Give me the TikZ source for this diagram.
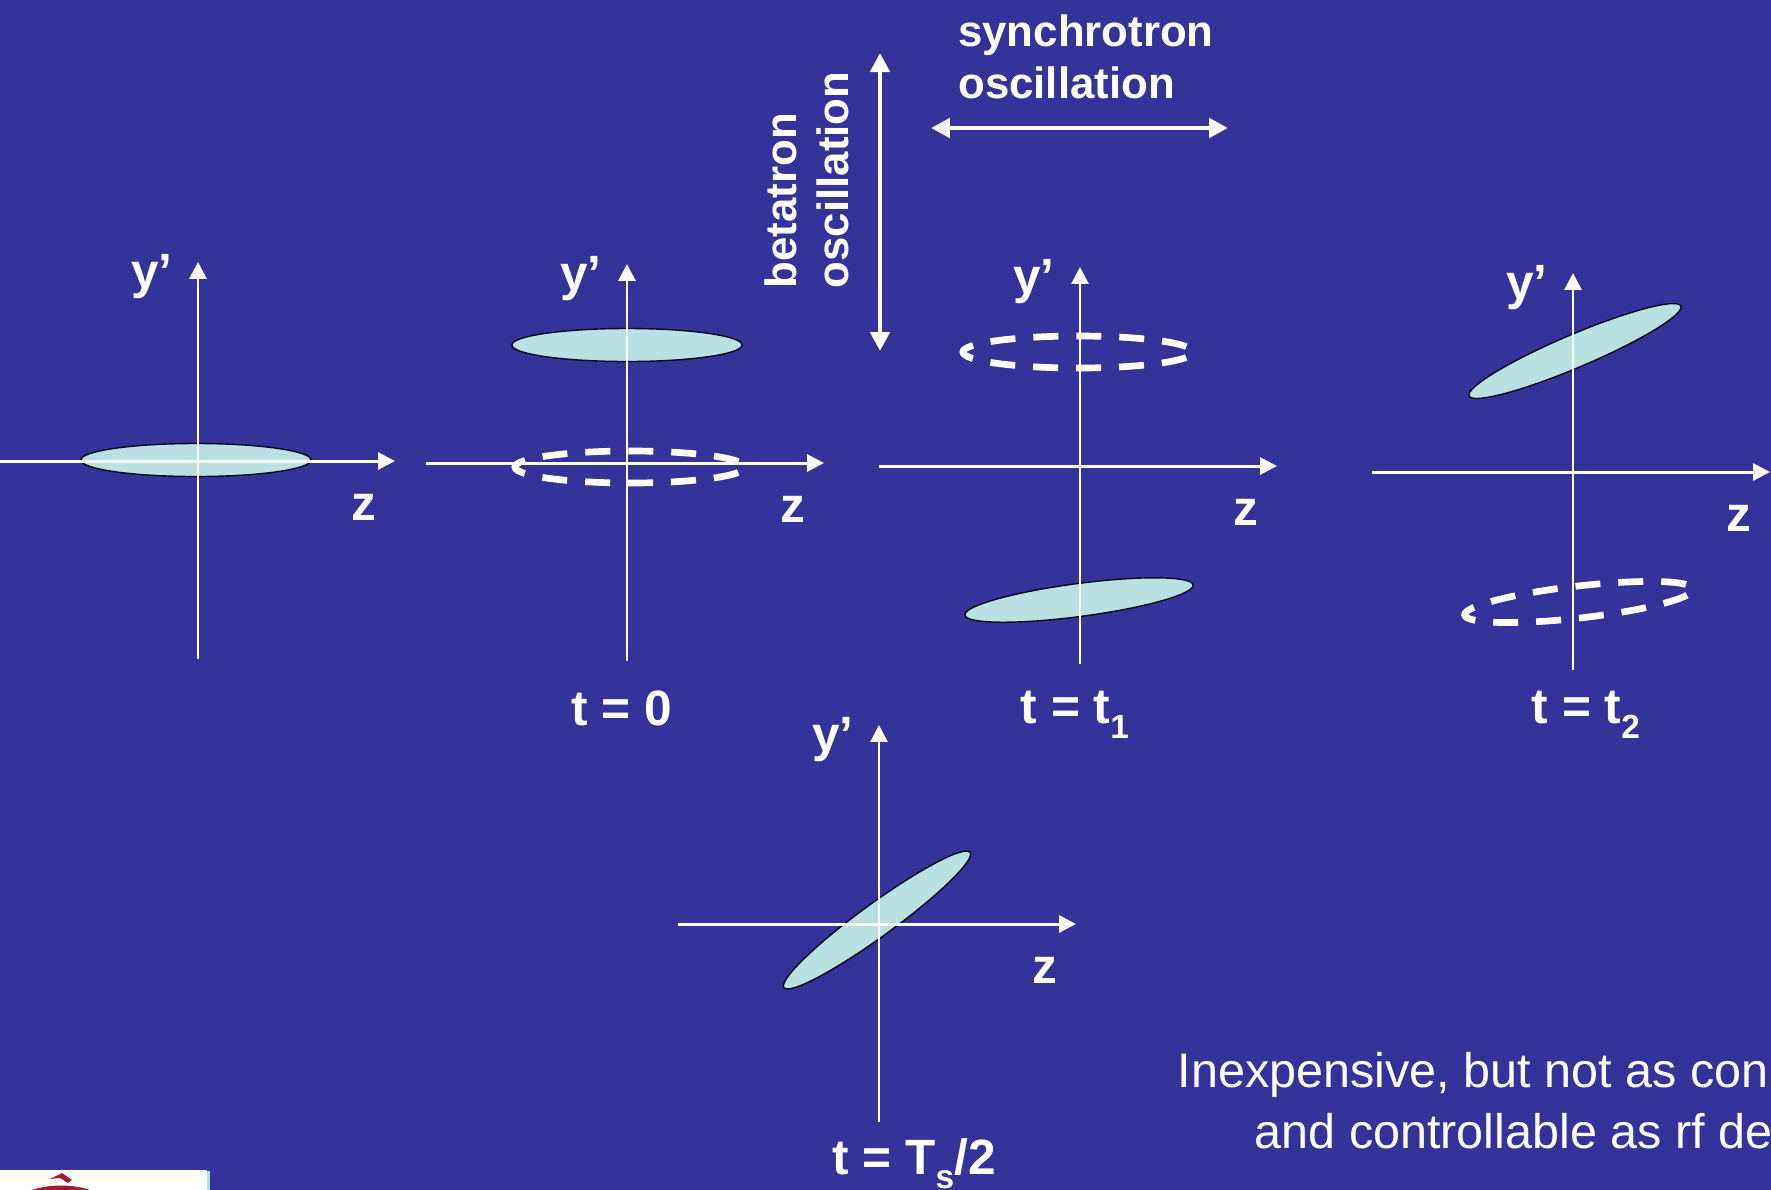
\documentclass[tikz,border=0pt]{standalone}
\usepackage{fontspec}
\setmainfont{Liberation Sans}
\usetikzlibrary{shapes.geometric,arrows.meta}
\definecolor{slide}{HTML}{333399}
\definecolor{beam}{HTML}{B9E1E1}
\definecolor{logored}{HTML}{A01C2C}
\definecolor{logoedge}{HTML}{B5DCEC}
\newcommand{\lowsub}[1]{\smash{\raisebox{-0.55ex}{\fontsize{9.5}{10}\selectfont\bfseries #1}}}
\tikzstyle{bunch} = [ellipse, minimum width=2.3cm, minimum height=0.33cm, inner sep=0pt, fill=beam, draw=black!80!slide, line width=0.4pt]
\tikzstyle{ghost} = [ellipse, minimum width=2.3cm, minimum height=0.32cm, inner sep=0pt, draw=white, line width=1.9pt, dash pattern=on 7.1pt off 5.12pt, dash phase=9.66pt]
\tikzstyle{axis} = [draw=white, line width=0.85pt]
\tikzstyle{axistip} = [-{Triangle[length=4.8pt,width=4.8pt]}]
\tikzstyle{motion} = [draw=white, line width=1.4pt, {Triangle[length=5.4pt,width=5.4pt]}-{Triangle[length=5.4pt,width=5.4pt]}]
\tikzstyle{big} = [text=white, inner sep=0pt, font=\fontsize{14.1}{15}\selectfont\bfseries]
\tikzstyle{small} = [text=white, inner sep=0pt, align=left, font=\fontsize{12.45}{14.8}\selectfont\bfseries]
\tikzstyle{note} = [text=white, inner sep=0pt, anchor=base west, font=\fontsize{13.8}{14}\selectfont]

\begin{document}
\begin{tikzpicture}[x=0.01cm,y=-0.01cm]
	\useasboundingbox (0,0) rectangle (1771,1190);
	\fill[slide] (0,0) rectangle (1771,1190);
	\node[bunch] (b0) at (196,460) {};
	\node[bunch] (b1) at (627,345) {};
	\node[ghost] (g1) at (630,467) {};
	\node[ghost] (g2) at (1078,352) {};
	\node[bunch, rotate=7.5] (b2) at (1079,600) {};
	\node[bunch, rotate=23] (b3) at (1575,351) {};
	\node[ghost, rotate=6.5] (g3) at (1579,602) {};
	\node[bunch, rotate=36] (b4) at (877,920) {};
	\foreach \n/\cx/\cy in {a/198/461, b/627/463, c/1080/466, d/1573/472, e/879/924} {
		\coordinate (\n w) at (\cx-201,\cy);
		\coordinate (\n e) at (\cx+197,\cy);
		\coordinate (\n n) at (\cx,\cy-199);
		\coordinate (\n s) at (\cx,\cy+198);
		\draw[axis, axistip] (\n w) -- (\n e);
		\draw[axis, axistip] (\n s) -- (\n n);
		\node[big] (\n y) at (\cx-46,\cy-184) {y’};
		\node[big] (\n z) at (\cx+166,\cy+46) {z};
	}
	\coordinate (betaN) at (880,53);
	\coordinate (betaS) at (880,351);
	\coordinate (syncW) at (931,128);
	\coordinate (syncE) at (1228,128);
	\draw[motion] (betaS) -- (betaN);
	\draw[motion] (syncW) -- (syncE);
	\node[small, rotate=90] (beta) at (807,180) {betatron\\oscillation};
	\node[small] (sync) at (1086,57) {synchrotron\\oscillation};
	\node[big] (t0) at (622,708) {t = 0};
	\node[big] (t1) at (1075,708) {t = t\lowsub{1}};
	\node[big] (t2) at (1586,708) {t = t\lowsub{2}};
	\node[big] (t3) at (914,1157) {t = T\lowsub{s}/2};
	\node[note] (n1) at (1177,1087) {Inexpensive, but not as con};
	\node[note] (n2) at (1254,1148) {and controllable as rf de};
	\fill[white] (0,1170) rectangle (207,1190);
	\fill[logoedge] (207,1171) rectangle (210,1190);
	\fill[logored] (50,1179) -- (62,1173) -- (72,1180) -- (68,1183) -- (60,1178) -- cycle;
	\fill[logored] (32,1190) .. controls (50,1184) and (72,1184) .. (90,1190) -- cycle;
\end{tikzpicture}
\end{document}
